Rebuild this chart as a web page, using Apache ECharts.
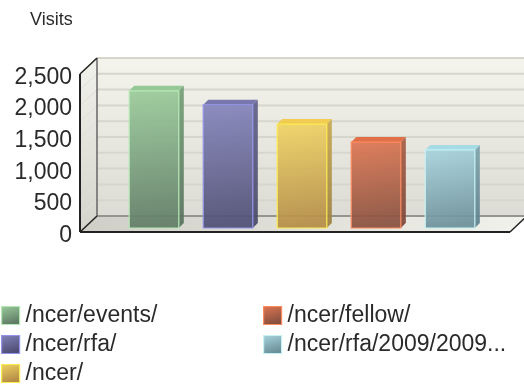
<!DOCTYPE html>
<html><head><meta charset="utf-8">
<style>html,body{margin:0;padding:0;background:#fff}#c{width:524px;height:389px;filter:blur(0.55px)}</style>
<script src="https://cdn.jsdelivr.net/npm/echarts@6/dist/echarts.min.js"></script>
</head><body><div id="c"></div>
<script>
const categories = ['/ncer/events/','/ncer/rfa/','/ncer/','/ncer/fellow/','/ncer/rfa/2009/2009...'];
const values = [2170, 1950, 1645, 1360, 1235];
const gridTicks = [0,250,500,750,1000,1250,1500,1750,2000,2250,2500];
const palette = [
 {top:'#9acb9a',bottom:'#607c66',edge:'#b6e8b6',cap:'#96c896',sideT:'#74a076',sideB:'#56705c'},
 {top:'#8484bc',bottom:'#4e4e74',edge:'#9494ea',cap:'#7878ae',sideT:'#60608a',sideB:'#484868'},
 {top:'#f0d464',bottom:'#b48c46',edge:'#fbea50',cap:'#f0cc52',sideT:'#c8a850',sideB:'#9a7e40'},
 {top:'#de7652',bottom:'#88503e',edge:'#fb8a60',cap:'#e07048',sideT:'#a85c44',sideB:'#7a4436'},
 {top:'#a8d4de',bottom:'#6c909a',edge:'#c6f2f6',cap:'#a6dae4',sideT:'#7ea4ae',sideB:'#5e808a'}
];
const DX = 17, DY = 16, BDX = 5, BDY = 5, LIFT = 4;
const grad = (x,y,x2,y2,a,b)=>new echarts.graphic.LinearGradient(x,y,x2,y2,[{offset:0,color:a},{offset:1,color:b}]);

function wallItem(params, api){
  const i = params.dataIndex, v = api.value(0);
  const cs = params.coordSys;
  const L = cs.x, R = cs.x+cs.width;
  const p = api.coord([-1, v]);
  const y = p[1];
  const y0 = cs.y+cs.height, yT = cs.y;
  const children = [];
  const lineC = '#d6d6cc';
  if(i===0){
    children.push({type:'polygon',shape:{points:[[L+DX,yT-DY],[R+DX,yT-DY],[R+DX,y0-DY],[L+DX,y0-DY]]},
      style:{fill:grad(0,0,0,1,'#f4f4ed','#dcdcd4')}});
    children.push({type:'polygon',shape:{points:[[L,yT],[L+DX,yT-DY],[L+DX,y0-DY],[L,y0]]},
      style:{fill:grad(0,0,0,1,'#f2f2ec','#d4d4cc')}});
    children.push({type:'polygon',shape:{points:[[L,y0],[L+DX,y0-DY],[R+DX,y0-DY],[R,y0]]},
      style:{fill:grad(0,0,1,0,'#cfcfc7','#f2f2ec')}});
  }
  children.push({type:'line',shape:{x1:L+DX,y1:y-DY,x2:R+DX,y2:y-DY},style:{stroke:lineC,lineWidth:2}});
  children.push({type:'line',shape:{x1:L,y1:y,x2:L+DX,y2:y-DY},style:{stroke:'#e0e0d8',lineWidth:1}});
  if(i===gridTicks.length-1){
    const blk = '#222';
    children.push({type:'line',shape:{x1:L+DX,y1:yT-DY,x2:L+DX,y2:y0-DY},style:{stroke:'#666',lineWidth:1.5}});
    children.push({type:'line',shape:{x1:L,y1:yT,x2:L+DX,y2:yT-DY},style:{stroke:blk,lineWidth:1.5}});
    children.push({type:'line',shape:{x1:L,y1:y0,x2:L+DX,y2:y0-DY},style:{stroke:blk,lineWidth:1.5}});
    children.push({type:'line',shape:{x1:L+DX,y1:y0-DY,x2:R+DX,y2:y0-DY},style:{stroke:'#555',lineWidth:1}});
    children.push({type:'line',shape:{x1:R,y1:y0,x2:R+DX,y2:y0-DY},style:{stroke:blk,lineWidth:1.5}});
    children.push({type:'line',shape:{x1:L,y1:yT,x2:L,y2:y0},style:{stroke:blk,lineWidth:2}});
    children.push({type:'line',shape:{x1:L,y1:y0,x2:R,y2:y0},style:{stroke:blk,lineWidth:2}});
  }
  return {type:'group',children};
}

function barItem(c){
  return function(params, api){
    const top = api.coord([api.value(0), api.value(1)]);
    const base = api.coord([api.value(0), 0]);
    const w = api.size([0.67,0])[0];
    const x1 = top[0]-w/2, x2 = top[0]+w/2, yt = top[1]-LIFT, yb = base[1]-LIFT;
    return {type:'group',children:[
      {type:'polygon',shape:{points:[[x2,yt],[x2+BDX,yt-BDY],[x2+BDX,yb-BDY],[x2,yb]]},
        style:{fill:grad(0,0,0,1,c.sideT,c.sideB),opacity:0.92}},
      {type:'polygon',shape:{points:[[x1,yt],[x1+BDX,yt-BDY],[x2+BDX,yt-BDY],[x2,yt]]},
        style:{fill:c.cap}},
      {type:'rect',shape:{x:x1,y:yt,width:w,height:yb-yt},
        style:{fill:grad(0,0,0.25,1,c.top,c.bottom),opacity:0.92}},
      {type:'rect',shape:{x:x1,y:yt,width:w,height:yb-yt},
        style:{fill:'none',stroke:c.edge,lineWidth:1.2}}
    ]};
  };
}

const legendText = {fontFamily:'Liberation Sans',fontSize:23,color:'#2a2a2a',padding:[3,0,0,1]};
const legendItem = i=>({name:categories[i],icon:'rect',
  itemStyle:{color:grad(0,0,0.3,1,palette[i].top,palette[i].bottom),borderColor:palette[i].edge,borderWidth:1.2}});

const chart = echarts.init(document.getElementById('c'),null,{renderer:'canvas'});
chart.setOption({
  animation:false,
  backgroundColor:'#fff',
  title:{text:'Visits',left:30,top:11,padding:0,
    textStyle:{fontFamily:'Liberation Sans',fontSize:18,fontWeight:'normal',color:'#2a2a2a'}},
  grid:{left:80,right:14,top:74,bottom:157,containLabel:false},
  xAxis:{type:'value',min:-1,max:4.81,show:false},
  yAxis:{type:'value',min:0,max:2500,interval:500,
    axisLine:{show:false},axisTick:{show:false},splitLine:{show:false},
    axisLabel:{margin:8,
      rich:{t:{fontFamily:'Liberation Sans',fontSize:23,color:'#2a2a2a',padding:[7,0,0,0]}},
      formatter:v=>'{t|'+v.toLocaleString('en-US')+'}'}},
  legend:[
    {orient:'vertical',left:1,top:304,height:85,width:250,itemWidth:18,itemHeight:18,itemGap:6,selectedMode:false,
     padding:0,textStyle:legendText,data:[0,1,2].map(legendItem)},
    {orient:'vertical',left:263,top:304,height:85,width:255,itemWidth:18,itemHeight:18,itemGap:6,selectedMode:false,
     padding:0,textStyle:legendText,data:[3,4].map(legendItem)}
  ],
  series:[
    {type:'custom',name:'walls',silent:true,clip:false,coordinateSystem:'cartesian2d',
     renderItem:wallItem,data:gridTicks.map(v=>[v]),encode:{x:-1,y:0},z:1},
    ...categories.map((n,i)=>({type:'custom',name:n,coordinateSystem:'cartesian2d',clip:false,
      renderItem:barItem(palette[i]),data:[[i,values[i]]],encode:{x:0,y:1},z:2,
      itemStyle:{color:palette[i].top}}))
  ]
});
</script></body></html>
